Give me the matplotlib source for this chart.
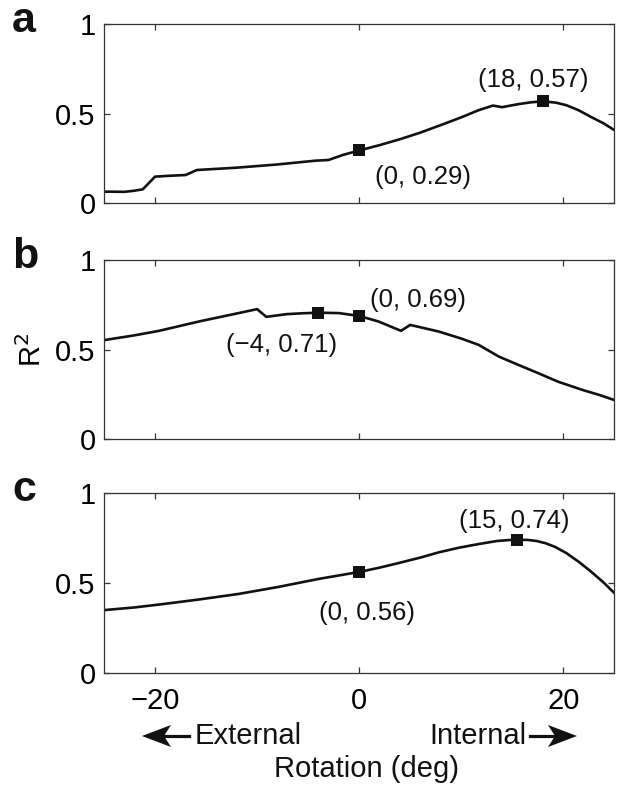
import matplotlib
matplotlib.use("Agg")
import matplotlib.pyplot as plt
from matplotlib.patches import Polygon
from matplotlib.lines import Line2D

plt.rcParams['font.family'] = ['Liberation Sans', 'DejaVu Sans']

# ---- data ----
a_x = [-25, -24.4, -23, -22.2, -21.2, -20.0, -18.5, -17.0, -15.9, -12, -8, -4.3, -3.0, -1.6, 0,
       2, 4, 6, 8, 10, 11.7, 13.1, 14.0, 15.6, 16.8, 18, 19.3, 20.3, 21.5, 22.7, 24, 25]
a_y = [0.065, 0.065, 0.064, 0.069, 0.078, 0.149, 0.154, 0.158, 0.186, 0.199, 0.217, 0.238, 0.242, 0.27, 0.295,
       0.325, 0.358, 0.395, 0.437, 0.48, 0.52, 0.546, 0.537, 0.554, 0.564, 0.57, 0.562, 0.548, 0.52, 0.483, 0.445, 0.409]
a_mx = [0, 18]
a_my = [0.295, 0.57]
a_lab = ['(0, 0.29)', '(18, 0.57)']

b_x = [-25, -22, -19.6, -15.7, -11.8, -10.0, -9.1, -7.1, -5.5, -4, -2, 0, 1.9, 4.1, 5.0,
       7.8, 10, 11.7, 13.7, 15.6, 17.5, 19.5, 21.9, 23.5, 25]
b_y = [0.553, 0.58, 0.605, 0.657, 0.704, 0.726, 0.683, 0.698, 0.703, 0.706, 0.704, 0.688, 0.657, 0.605, 0.638,
       0.601, 0.562, 0.527, 0.461, 0.415, 0.37, 0.321, 0.275, 0.248, 0.219]
b_mx = [-4, 0]
b_my = [0.706, 0.688]
b_lab = ['(\u22124, 0.71)', '(0, 0.69)']

c_x = [-25, -22, -19.6, -15.7, -11.8, -7.9, -4.0, 0, 2, 3.9, 6, 7.8, 9.8, 11.7, 13.5, 14.6, 15.5,
       16.5, 17.4, 18.3, 19.2, 20.3, 21.5, 22.7, 23.9, 25]
c_y = [0.351, 0.366, 0.382, 0.41, 0.441, 0.48, 0.524, 0.563, 0.587, 0.613, 0.643, 0.672, 0.698, 0.718, 0.735, 0.740, 0.742,
       0.741, 0.735, 0.722, 0.702, 0.668, 0.62, 0.566, 0.507, 0.446]
c_mx = [0, 15.5]
c_my = [0.563, 0.742]
c_lab = ['(0, 0.56)', '(15, 0.74)']

xticks = [-20, 0, 20]
yticks = [0, 0.5, 1]
ytick_labels = ['0', '0.5', '1']
panel_letters = ['a', 'b', 'c']

# ---- figure ----
W, H = 624, 795
fig = plt.figure(figsize=(W / 100, H / 100), dpi=100)

def fx(px):
    return px / W

def fy(py):
    return 1 - py / H

left, right = 104, 614.3
panels = [(24.3, 203.3), (260, 439.3), (493.3, 673.3)]
FS = 21        # ticks / axis text
FA = 18.5      # annotations

series = [(a_x, a_y, a_mx, a_my, a_lab), (b_x, b_y, b_mx, b_my, b_lab), (c_x, c_y, c_mx, c_my, c_lab)]
# annotation centres in data coordinates (layout)
ann_pos = [[(6.3, 0.147), (17.1, 0.689)],
           [(-7.6, 0.526), (5.8, 0.777)],
           [(0.8, 0.333), (15.2, 0.848)]]

axes = []
for i, ((top, bot), (xs, ys, mx, my, labs)) in enumerate(zip(panels, series)):
    ax = fig.add_axes([fx(left), fy(bot), fx(right - left), (bot - top) / H])
    axes.append(ax)
    ax.plot(xs, ys, color='#111111', lw=1.9, solid_joinstyle='round')
    ax.plot(mx, my, 's', color='#111111', ms=8.5, mew=0)
    for (tx, ty), lab in zip(ann_pos[i], labs):
        ax.text(tx, ty, lab, ha='center', va='center', fontsize=FA, color='#111111')
    ax.set_xlim(-25, 25)
    ax.set_ylim(0, 1)
    ax.set_xticks(xticks)
    ax.set_yticks(yticks)
    ax.set_yticklabels(ytick_labels)
    ax.tick_params(direction='in', top=True, right=True, length=4, width=0.9,
                   color='#333333', labelsize=FS, pad=6)
    ax.tick_params(axis='x', pad=10)
    if i < 2:
        ax.set_xticklabels([])
    for s in ax.spines.values():
        s.set_linewidth(0.9)
        s.set_color('#333333')
    fig.text(fx(12), fy(top + 7.5), panel_letters[i], fontsize=31, fontweight='bold',
             ha='left', va='baseline', color='#111111')

axes[1].set_ylabel('R$^2$', fontsize=FS, labelpad=6)

# bottom annotations
fig.text(fx(195), fy(744), 'External', fontsize=FS, ha='left', va='baseline', color='#111111')
fig.text(fx(526), fy(744), 'Internal', fontsize=FS, ha='right', va='baseline', color='#111111')
fig.text(fx(366), fy(777), 'Rotation (deg)', fontsize=FS, ha='center', va='baseline', color='#111111')


def draw_arrow(tail_px, tip_px, y_px):
    d = 1 if tip_px > tail_px else -1
    hl, hw, notch = 29, 11, 7
    back = tip_px - d * hl
    pts = [(fx(tip_px), fy(y_px)),
           (fx(back), fy(y_px - hw)),
           (fx(back + d * notch), fy(y_px)),
           (fx(back), fy(y_px + hw))]
    fig.add_artist(Line2D([fx(tail_px), fx(back + d * notch + d * 2)], [fy(y_px), fy(y_px)],
                          transform=fig.transFigure, color='#111111', lw=2.3))
    fig.add_artist(Polygon(pts, closed=True, transform=fig.transFigure,
                           facecolor='#111111', edgecolor='none'))


draw_arrow(189, 142, 736)
draw_arrow(530, 577, 736)

fig.savefig('out.png', dpi=100)
